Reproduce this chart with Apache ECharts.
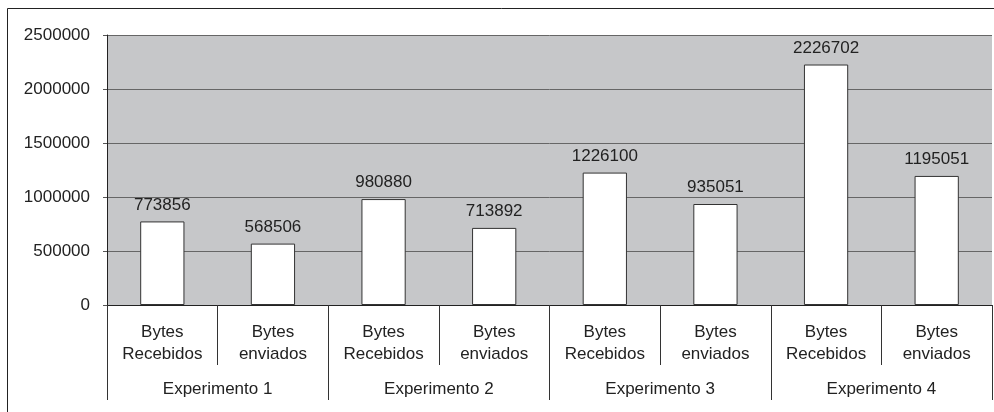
<!DOCTYPE html>
<html>
<head>
<meta charset="utf-8">
<script src="https://cdn.jsdelivr.net/npm/echarts@6/dist/echarts.min.js"></script>
<style>
  html, body { margin: 0; padding: 0; background: #fff; }
  #chart { width: 994px; height: 412px; }
</style>
</head>
<body>
<div id="chart"></div>
<script>
// categorias (nível interno e externo)
const itemLabels = [
    'Bytes\nRecebidos', 'Bytes\nenviados',
    'Bytes\nRecebidos', 'Bytes\nenviados',
    'Bytes\nRecebidos', 'Bytes\nenviados',
    'Bytes\nRecebidos', 'Bytes\nenviados'
]
const groupLabels = ['Experimento 1', 'Experimento 2', 'Experimento 3', 'Experimento 4']
const byteValues = [773856, 568506, 980880, 713892, 1226100, 935051, 2226702, 1195051]

const fontFamily = 'Liberation Sans, Arial, sans-serif'
const chart = echarts.init(document.getElementById('chart'))

const option = {
    animation: false,
    grid: {
        left: 107,
        right: 2,
        top: 35,
        bottom: 107,
        show: true,
        backgroundColor: '#c6c7c9',
        borderWidth: 0
    },
    xAxis: [
        {
            type: 'category',
            data: itemLabels,
            position: 'bottom',
            axisLine: { lineStyle: { color: '#222', width: 1 } },
            axisTick: { show: true, length: 60, interval: 0, lineStyle: { color: '#333' } },
            axisLabel: {
                interval: 0,
                margin: 16,
                color: '#222',
                fontSize: 17,
                lineHeight: 22,
                fontFamily: fontFamily
            }
        },
        {
            type: 'category',
            data: groupLabels,
            position: 'bottom',
            axisLine: { show: false },
            axisTick: { show: true, length: 95, interval: 0, lineStyle: { color: '#333' } },
            axisLabel: {
                interval: 0,
                margin: 76,
                color: '#222',
                fontSize: 17,
                fontFamily: fontFamily
            }
        }
    ],
    yAxis: {
        type: 'value',
        min: 0,
        max: 2500000,
        interval: 500000,
        axisLine: { show: true, lineStyle: { color: '#222' } },
        axisTick: { show: true, length: 4, lineStyle: { color: '#555' } },
        axisLabel: {
            color: '#222',
            fontSize: 17,
            margin: 17,
            fontFamily: fontFamily,
            formatter: v => String(v)
        },
        splitLine: { lineStyle: { color: '#666', width: 1 } }
    },
    series: [{
        type: 'bar',
        xAxisIndex: 0,
        data: byteValues,
        barWidth: '40%',
        itemStyle: { color: '#fff', borderColor: '#333', borderWidth: 1 },
        label: {
            show: true,
            position: 'top',
            distance: 8,
            color: '#222',
            fontSize: 17,
            fontFamily: fontFamily
        }
    }],
    graphic: [{
        type: 'rect',
        shape: { x: 7.5, y: 8.5, width: 1000, height: 410 },
        style: { fill: null, stroke: '#222', lineWidth: 1 },
        silent: true
    }]
}

chart.setOption(option)
</script>
</body>
</html>
